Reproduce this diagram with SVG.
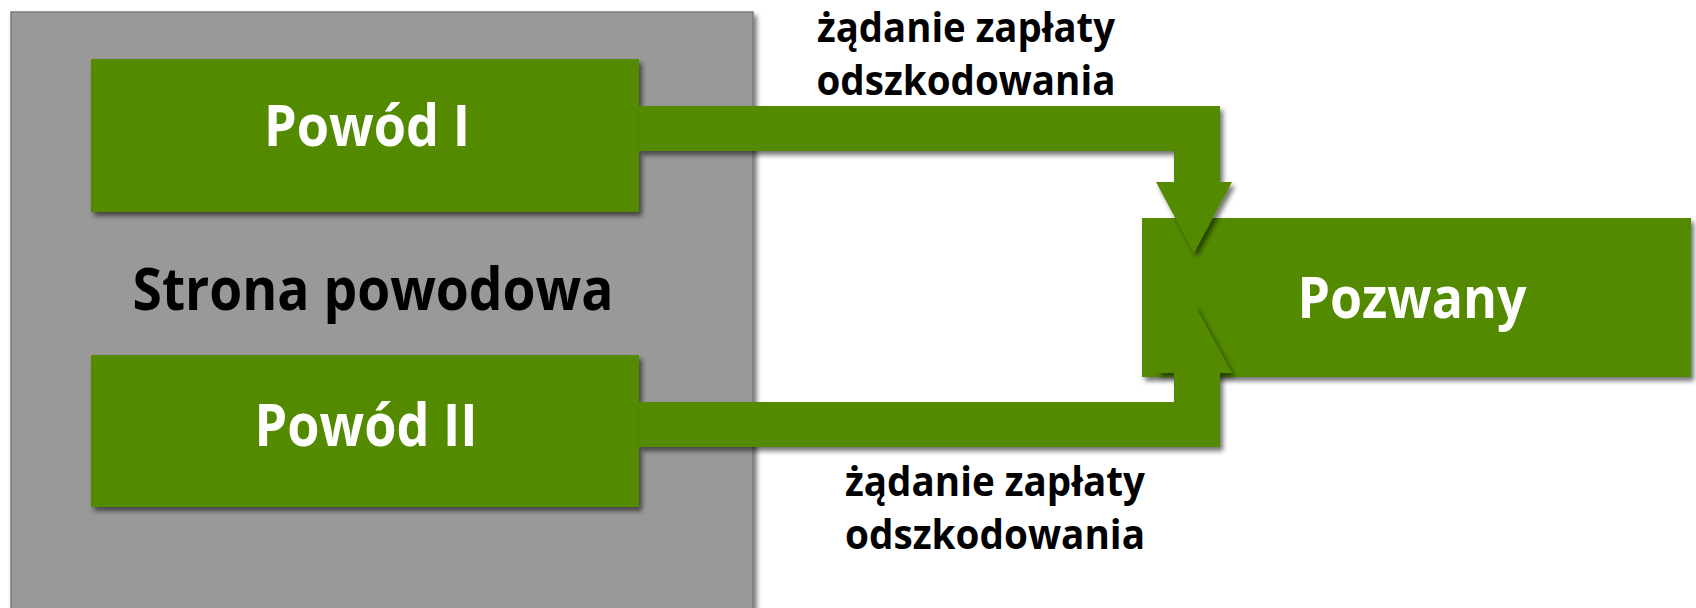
<svg xmlns="http://www.w3.org/2000/svg" width="1696" height="608" viewBox="0 0 1696 608">
  <defs>
    <filter id="sh" x="-10%" y="-10%" width="130%" height="130%">
      <feDropShadow dx="3" dy="4" stdDeviation="2.5" flood-color="#000" flood-opacity="0.55"/>
    </filter>
    <style>
      .grn { fill: #538A03; }
      .wt { fill: #FFFFFF; font-family: "Open Sans", "Liberation Sans", sans-serif; font-weight: bold; text-anchor: middle; }
      .bk { fill: #000000; font-family: "Open Sans", "Liberation Sans", sans-serif; font-weight: bold; text-anchor: middle; }
    </style>
  </defs>
  <rect width="1696" height="608" fill="#FFFFFF"/>

  <g id="strona-powodowa">
    <rect x="11" y="12" width="742" height="600" fill="#999999" stroke="#7A7A7A" stroke-width="1.5" filter="url(#sh)"/>
    <text class="bk" x="373" y="310" font-size="59" textLength="481" lengthAdjust="spacingAndGlyphs">Strona powodowa</text>
  </g>

  <g id="powod-1">
    <rect class="grn" x="91" y="59" width="548" height="153" filter="url(#sh)"/>
    <text class="wt" x="367" y="146" font-size="57" textLength="206" lengthAdjust="spacingAndGlyphs">Powód I</text>
  </g>

  <g id="powod-2">
    <rect class="grn" x="91" y="355" width="548" height="152" filter="url(#sh)"/>
    <text class="wt" x="366" y="446" font-size="59" textLength="223" lengthAdjust="spacingAndGlyphs">Powód II</text>
  </g>

  <g id="pozwany">
    <rect class="grn" x="1142" y="218" width="549" height="159" filter="url(#sh)"/>
    <text class="wt" x="1412" y="318" font-size="57" textLength="229" lengthAdjust="spacingAndGlyphs">Pozwany</text>
  </g>

  <g id="connectors">
    <path class="grn" filter="url(#sh)" d="M639 106 L1220 106 L1220 182 L1232 182 L1194 253 L1156 182 L1174 182 L1174 151 L639 151 Z"/>
    <path class="grn" filter="url(#sh)" d="M639 447 L1220 447 L1220 373 L1232 373 L1194 304 L1156 373 L1174 373 L1174 402 L639 402 Z"/>
  </g>

  <g id="label-top">
    <text class="bk" x="966" y="42" font-size="42" textLength="298" lengthAdjust="spacingAndGlyphs">żądanie zapłaty</text>
    <text class="bk" x="966" y="95" font-size="42" textLength="299" lengthAdjust="spacingAndGlyphs">odszkodowania</text>
  </g>

  <g id="label-bottom">
    <text class="bk" x="995" y="496" font-size="42" textLength="300" lengthAdjust="spacingAndGlyphs">żądanie zapłaty</text>
    <text class="bk" x="995" y="549" font-size="42" textLength="300" lengthAdjust="spacingAndGlyphs">odszkodowania</text>
  </g>
</svg>
